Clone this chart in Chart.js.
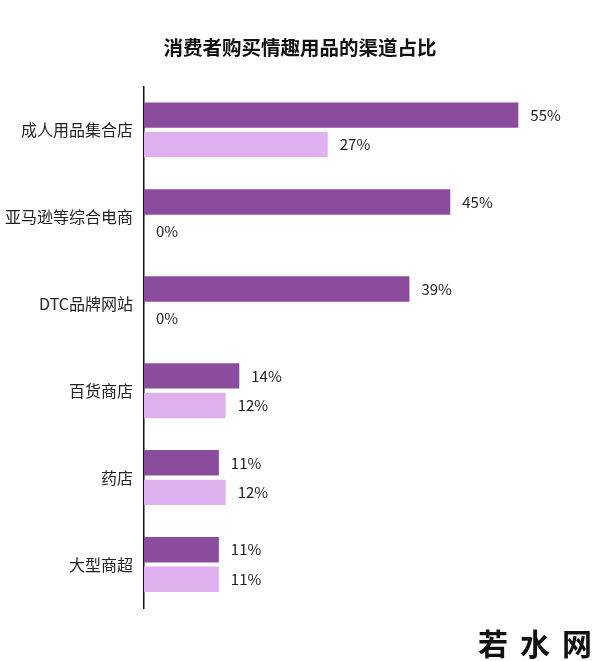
<!DOCTYPE html>
<html>
<head>
<meta charset="utf-8">
<script src="https://cdn.jsdelivr.net/npm/chart.js@4"></script>
<style>
  body { margin: 0; background: #fff; }
  #wrap { position: relative; width: 600px; height: 661px; }
  #mark {
    position: absolute; left: 478px; top: 620px; white-space: nowrap;
    font: 600 30px "Noto Sans CJK SC", sans-serif;
    letter-spacing: 12px; color: #111;
  }
</style>
</head>
<body>
<div id="wrap">
  <canvas id="myChart"></canvas>
  <div id="mark">若水网</div>
</div>
<script>
const channels = ['成人用品集合店', '亚马逊等综合电商', 'DTC品牌网站', '百货商店', '药店', '大型商超'];
const series1 = [55, 45, 39, 14, 11, 11];
const series2 = [27, 0, 0, 12, 12, 11];

const font = '"Noto Sans CJK SC", "Noto Sans", sans-serif';

// draw "xx%" to the right of every bar
const valueLabels = {
  id: 'valueLabels',
  afterDatasetsDraw(chart) {
    const ctx = chart.ctx;
    ctx.save();
    ctx.font = '15px ' + font;
    ctx.fillStyle = '#222';
    ctx.textBaseline = 'middle';
    chart.data.datasets.forEach((ds, i) => {
      chart.getDatasetMeta(i).data.forEach((bar, j) => {
        ctx.fillText(ds.data[j] + '%', bar.x + 12, bar.y);
      });
    });
    ctx.restore();
  }
};

const ctx = document.getElementById('myChart').getContext('2d');
new Chart(ctx, {
  type: 'bar',
  data: {
    labels: channels,
    datasets: [
      { data: series1, backgroundColor: '#8b4c9e', categoryPercentage: 0.68, barPercentage: 0.86 },
      { data: series2, backgroundColor: '#dfb0ef', categoryPercentage: 0.68, barPercentage: 0.86 },
    ],
  },
  options: {
    indexAxis: 'y',
    responsive: true,
    maintainAspectRatio: false,
    animation: false,
    layout: { padding: { left: 0, right: 0, top: 0, bottom: 53 } },
    plugins: {
      legend: { display: false },
      tooltip: { enabled: false },
      title: {
        display: true,
        text: '消费者购买情趣用品的渠道占比',
        color: '#111',
        font: { family: font, size: 19.5, weight: 'bold' },
        padding: { top: 36, bottom: 27 },
      },
    },
    scales: {
      x: { display: false, min: 0, max: 67 },
      y: {
        afterFit(scale) { scale.width = 144; },
        grid: { display: false, drawTicks: false },
        border: { display: true, color: '#111', width: 1.5 },
        ticks: { color: '#222', padding: 11, font: { family: font, size: 16 } },
      },
    },
  },
  plugins: [valueLabels],
});
</script>
</body>
</html>
